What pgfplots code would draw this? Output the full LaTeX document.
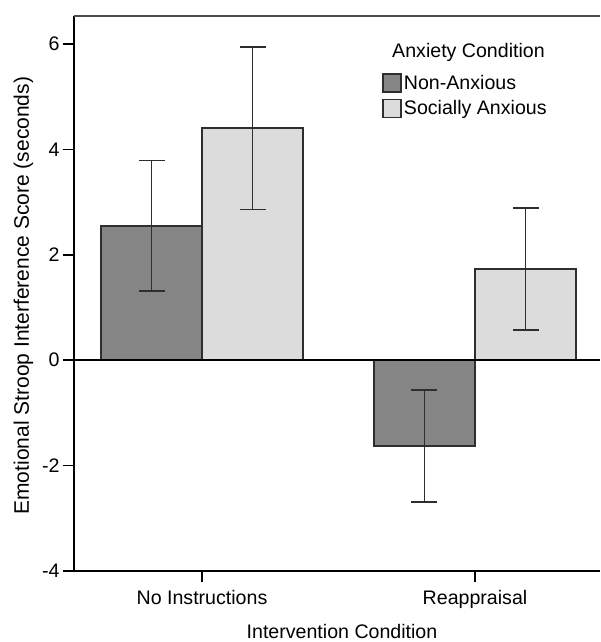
\documentclass[border=0pt]{standalone}
\usepackage{fontspec}
\setmainfont{Liberation Sans}
\usepackage{pgfplots}
\pgfplotsset{compat=1.18}
\definecolor{darkbar}{HTML}{858585}
\definecolor{lightbar}{HTML}{DCDCDC}
\definecolor{edge}{HTML}{2E2E2E}
\pgfplotsset{sqlegend/.style={legend image code/.code={\draw[##1] (0pt,-9pt) rectangle (18pt,9pt);}}}
\begin{document}
\begin{tikzpicture}
\begin{axis}[
  name=ax, at={(0,0)}, anchor=south west,
  scale only axis, width=526pt, height=555pt,
  xmin=-0.4689, xmax=1.4579, ymin=-4, ymax=6.53,
  clip=false,
  axis x line*=bottom, axis y line*=left,
  axis line style={-, line width=1.7pt, black},
  xtick={0,1}, xticklabels={No Instructions, Reappraisal},
  ytick={-4,-2,0,2,4,6},
  tick align=outside, major tick length=11pt,
  tick style={line width=1.6pt, black},
  /pgf/number format/assume math mode=true,
  font=\fontsize{19.6}{23}\selectfont,
  xticklabel style={font=\fontsize{19.6}{23}\selectfont, yshift=-5pt},
  yticklabel style={font=\fontsize{19.6}{23}\selectfont},
  xlabel={Intervention Condition},
  ylabel={Emotional Stroop Interference Score (seconds)},
  every axis x label/.style={at={([yshift=-67pt]rel axis cs:0.5095,0)}, anchor=base, font=\fontsize{19.6}{23}\selectfont},
  every axis y label/.style={at={([xshift=-45pt]rel axis cs:0,0.496)}, rotate=90, anchor=base, font=\fontsize{21}{25}\selectfont},
  legend style={at={(rel axis cs:0.5856,0.8975)}, anchor=north west, draw=none, fill=none,
    inner sep=0pt, row sep=6pt, font=\fontsize{19.6}{23}\selectfont,
    nodes={inner xsep=2pt, inner ysep=0pt}},
  legend cell align=left,
  unbounded coords=jump,
]
% bars: means
\addplot[ybar, bar width=101pt, bar shift=-50.5pt, fill=darkbar, draw=edge, line width=1.7pt, sqlegend]
  coordinates {(0,2.55) (1,-1.63)};
\addplot[ybar, bar width=101pt, bar shift=50.5pt, fill=lightbar, draw=edge, line width=1.7pt, sqlegend]
  coordinates {(0,4.40) (1,1.73)};
\legend{Non-Anxious, Socially Anxious}
% error bars: lower and upper ends (mean -/+ error)
\addplot[forget plot, edge, line width=1.7pt, mark=-, mark size=13pt, mark options={solid, line width=1.7pt}]
  coordinates {(-0.185,1.31) (-0.185,3.79) (-0.185,nan) (0.815,-2.69) (0.815,-0.57)};
\addplot[forget plot, edge, line width=1.7pt, mark=-, mark size=13pt, mark options={solid, line width=1.7pt}]
  coordinates {(0.185,2.86) (0.185,5.94) (0.185,nan) (1.185,0.575) (1.185,2.885)};
\draw[line width=1.7pt, black] (axis cs:-0.4689,0) -- (axis cs:1.4579,0);
\draw[line width=1.7pt, black!70] (rel axis cs:0,1) -- (rel axis cs:1,1);
\node[font=\fontsize{19.6}{23}\selectfont, anchor=center] at (rel axis cs:0.750,0.935) {Anxiety Condition};
\end{axis}
\pgfresetboundingbox
\path[use as bounding box] (-74pt,-71pt) rectangle (526pt,571pt);
\end{tikzpicture}
\end{document}
